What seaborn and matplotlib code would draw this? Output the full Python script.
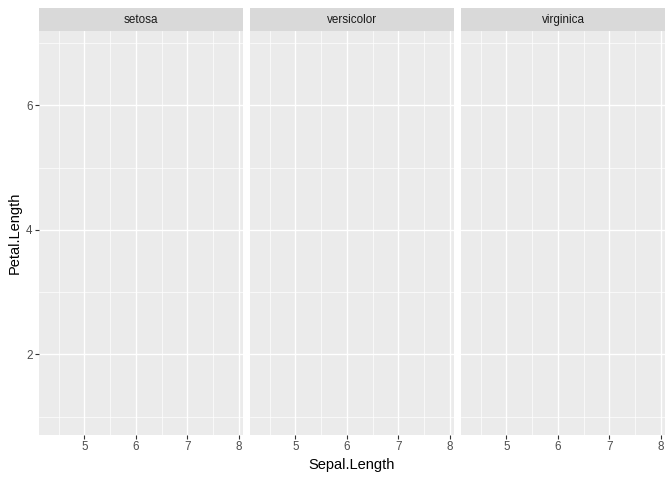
import pandas as pd
import matplotlib.pyplot as plt
import seaborn as sns
from matplotlib.patches import Rectangle

# iris facets, empty panels (no geoms drawn in the reference)
species = ['setosa', 'versicolor', 'virginica']
sepal_range = [4.3, 7.9]
petal_range = [1.0, 6.9]
x_ticks = [5, 6, 7, 8]
x_minor = [4.5, 5.5, 6.5, 7.5]
y_ticks = [2, 4, 6]
y_minor = [1, 3, 5, 7]

sns.set_theme(style='darkgrid')
plt.rcParams['font.family'] = ['Liberation Sans', 'DejaVu Sans']

df = pd.DataFrame({
    'Species': [s for s in species for _ in range(2)],
    'Sepal.Length': sepal_range * len(species),
    'Petal.Length': petal_range * len(species),
})


def expand(r, f=0.05):
    d = (r[1] - r[0]) * f
    return r[0] - d, r[1] + d


g = sns.FacetGrid(df, col='Species', col_order=species, sharex=True, sharey=True,
                  despine=False, height=4.8, aspect=0.47)
g.figure.set_size_inches(6.72, 4.8)
g.figure.set_dpi(100)
g.set_titles('')
g.figure.subplots_adjust(left=39 / 672, right=665 / 672, bottom=1 - 435 / 480,
                         top=1 - 31 / 480, wspace=7 / 204)

panel_h = 404
for ax, sp in zip(g.axes.flat, species):
    ax.set_facecolor('#EBEBEB')
    ax.set_xlim(*expand(sepal_range))
    ax.set_ylim(*expand(petal_range))
    ax.set_xticks(x_ticks)
    ax.set_xticks(x_minor, minor=True)
    ax.set_yticks(y_ticks)
    ax.set_yticks(y_minor, minor=True)
    ax.grid(which='major', color='white', linewidth=1.0)
    ax.grid(which='minor', color='white', linewidth=0.5)
    ax.set_axisbelow(True)
    for s in ax.spines.values():
        s.set_visible(False)
    ax.tick_params(which='major', length=2.6, width=0.8, color='#333333',
                   labelsize=8.4, labelcolor='#4D4D4D', pad=2, bottom=True, left=True)
    ax.tick_params(which='minor', length=0, bottom=False, left=False)
    ax.set_xlabel('')
    ax.set_ylabel('')
    # strip
    sh = 23 / panel_h
    ax.add_patch(Rectangle((0, 1), 1, sh, transform=ax.transAxes, facecolor='#D9D9D9',
                           edgecolor='none', clip_on=False))
    ax.text(0.5, 1 + sh / 2, sp, transform=ax.transAxes, ha='center', va='center',
            fontsize=8.4, color='#1A1A1A')

for ax in g.axes.flat[1:]:
    ax.tick_params(which='major', left=False, labelleft=False)

g.figure.text(352 / 672, 1 - 465 / 480, 'Sepal.Length', ha='center', va='center',
              fontsize=10.5, color='black')
g.figure.text(15 / 672, 1 - 233 / 480, 'Petal.Length', ha='center', va='center',
              rotation=90, fontsize=10.5, color='black')

g.figure.savefig('out.png', dpi=100)
